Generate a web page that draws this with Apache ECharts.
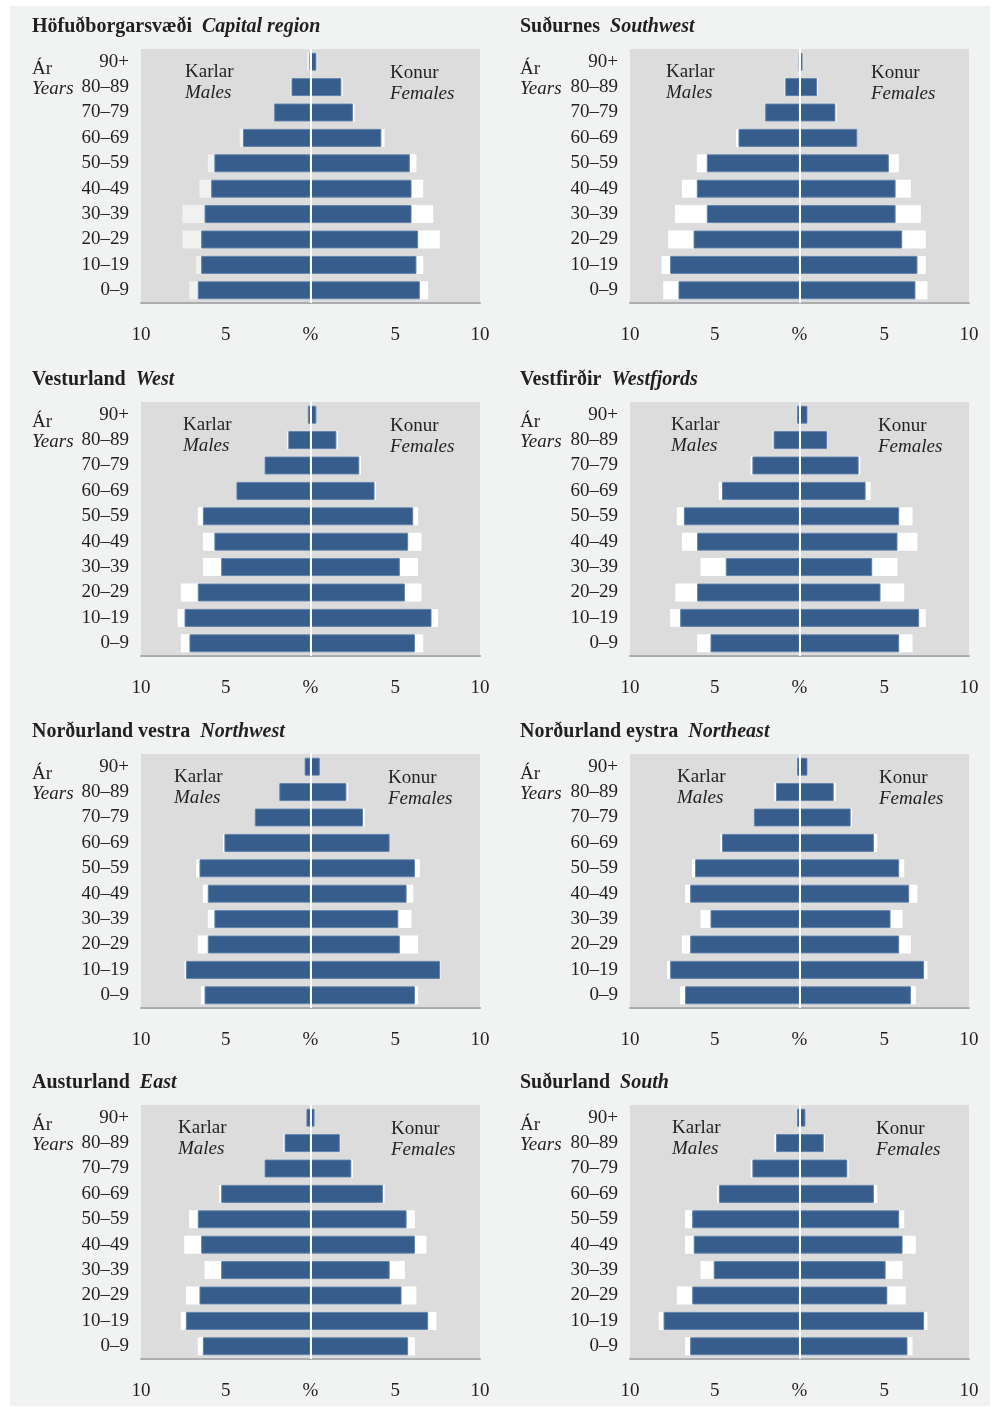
<!DOCTYPE html>
<html>
<head>
<meta charset="utf-8">
<script src="https://cdn.jsdelivr.net/npm/echarts@6/dist/echarts.min.js"></script>
<style>
  html, body { margin: 0; padding: 0; background: #ffffff; }
  #frame { position: absolute; left: 10px; top: 6px; width: 980px; height: 1400px; background: #f1f2f2; }
  #chart { position: absolute; left: 0; top: 0; width: 994px; height: 1407px; }
</style>
</head>
<body>
<div id="frame"></div>
<div id="chart"></div>
<script>
// aldurshópar, neðst til efst
const ageGroups = ['0–9', '10–19', '20–29', '30–39', '40–49', '50–59', '60–69', '70–79', '80–89', '90+'];
const xTicks = [-10, -5, 0, 5, 10];

// % karla / kvenna í landshluta (blátt) og samanburður (hvítt)
const capitalMales = [6.65, 6.45, 6.45, 6.25, 5.86, 5.67, 3.98, 2.14, 1.12, 0.05];
const capitalFemales = [6.45, 6.25, 6.35, 5.96, 5.96, 5.86, 4.18, 2.5, 1.82, 0.35];
const capitalMalesRef = [7.16, 6.75, 7.55, 7.55, 6.55, 6.06, 4.18, 2.1, 1.18, 0.2];
const capitalFemalesRef = [6.94, 6.65, 7.63, 7.24, 6.65, 6.25, 4.37, 2.6, 1.9, 0.4];

const southwestMales = [7.14, 7.63, 6.25, 5.47, 6.06, 5.47, 3.6, 2.02, 0.84, 0.02];
const southwestFemales = [6.84, 6.96, 6.06, 5.67, 5.67, 5.27, 3.41, 2.12, 1.04, 0.18];
const southwestMalesRef = [8.04, 8.14, 7.75, 7.35, 6.94, 6.06, 3.75, 2.0, 0.88, 0.05];
const southwestFemalesRef = [7.55, 7.45, 7.45, 7.16, 6.57, 5.86, 3.41, 2.2, 1.1, 0.18];

const westMales = [7.14, 7.43, 6.65, 5.27, 5.67, 6.35, 4.37, 2.71, 1.31, 0.16];
const westFemales = [6.16, 7.14, 5.57, 5.27, 5.76, 6.06, 3.78, 2.88, 1.53, 0.35];
const westMalesRef = [7.65, 7.84, 7.65, 6.35, 6.35, 6.65, 4.37, 2.71, 1.37, 0.16];
const westFemalesRef = [6.65, 7.53, 6.55, 6.35, 6.55, 6.35, 3.86, 2.98, 1.63, 0.35];

const westfjordsMales = [5.25, 7.04, 6.04, 4.35, 6.04, 6.82, 4.57, 2.78, 1.53, 0.16];
const westfjordsFemales = [5.88, 7.06, 4.78, 4.29, 5.78, 5.88, 3.9, 3.49, 1.63, 0.47];
const westfjordsMalesRef = [6.04, 7.63, 7.33, 5.84, 6.94, 7.24, 4.76, 2.9, 1.59, 0.2];
const westfjordsFemalesRef = [6.67, 7.45, 6.18, 5.78, 6.96, 6.67, 4.2, 3.59, 1.65, 0.47];

const northwestMales = [6.25, 7.35, 6.06, 5.67, 6.06, 6.55, 5.08, 3.29, 1.84, 0.35];
const northwestFemales = [6.16, 7.65, 5.27, 5.18, 5.67, 6.16, 4.67, 3.1, 2.12, 0.55];
const northwestMalesRef = [6.45, 7.43, 6.65, 6.06, 6.35, 6.75, 5.16, 3.29, 1.84, 0.35];
const northwestFemalesRef = [6.35, 7.7, 6.35, 5.96, 6.06, 6.45, 4.7, 3.2, 2.22, 0.55];

const northeastMales = [6.75, 7.63, 6.45, 5.25, 6.45, 6.16, 4.57, 2.69, 1.39, 0.16];
const northeastFemales = [6.57, 7.35, 5.88, 5.37, 6.47, 5.88, 4.39, 3.02, 2.02, 0.47];
const northeastMalesRef = [7.04, 7.82, 6.94, 5.84, 6.75, 6.35, 4.67, 2.69, 1.49, 0.2];
const northeastFemalesRef = [6.86, 7.55, 6.57, 6.08, 6.96, 6.18, 4.59, 3.1, 2.14, 0.47];

const eastMales = [6.35, 7.35, 6.55, 5.27, 6.45, 6.65, 5.27, 2.71, 1.53, 0.24];
const eastFemales = [5.76, 6.94, 5.37, 4.67, 6.16, 5.67, 4.27, 2.41, 1.73, 0.24];
const eastMalesRef = [6.65, 7.65, 7.35, 6.25, 7.45, 7.16, 5.39, 2.71, 1.61, 0.24];
const eastFemalesRef = [6.16, 7.43, 6.25, 5.57, 6.84, 6.16, 4.37, 2.5, 1.75, 0.24];

const southMales = [6.45, 8.02, 6.33, 5.06, 6.24, 6.33, 4.76, 2.78, 1.39, 0.16];
const southFemales = [6.37, 7.35, 5.18, 5.08, 6.08, 5.88, 4.39, 2.82, 1.43, 0.35];
const southMalesRef = [6.75, 8.31, 7.24, 5.84, 6.75, 6.75, 4.86, 2.88, 1.49, 0.2];
const southFemalesRef = [6.67, 7.55, 6.27, 6.08, 6.86, 6.18, 4.59, 2.9, 1.5, 0.35];

const regions = [
    { is: 'Höfuðborgarsvæði', en: 'Capital region', m: capitalMales, f: capitalFemales, mr: capitalMalesRef, fr: capitalFemalesRef },
    { is: 'Suðurnes', en: 'Southwest', m: southwestMales, f: southwestFemales, mr: southwestMalesRef, fr: southwestFemalesRef },
    { is: 'Vesturland', en: 'West', m: westMales, f: westFemales, mr: westMalesRef, fr: westFemalesRef },
    { is: 'Vestfirðir', en: 'Westfjords', m: westfjordsMales, f: westfjordsFemales, mr: westfjordsMalesRef, fr: westfjordsFemalesRef },
    { is: 'Norðurland vestra', en: 'Northwest', m: northwestMales, f: northwestFemales, mr: northwestMalesRef, fr: northwestFemalesRef },
    { is: 'Norðurland eystra', en: 'Northeast', m: northeastMales, f: northeastFemales, mr: northeastMalesRef, fr: northeastFemalesRef },
    { is: 'Austurland', en: 'East', m: eastMales, f: eastFemales, mr: eastMalesRef, fr: eastFemalesRef },
    { is: 'Suðurland', en: 'South', m: southMales, f: southFemales, mr: southMalesRef, fr: southFemalesRef }
];

const FONT = "'Liberation Serif', 'Times New Roman', serif";
const TXT = '#231f20';
const BLUE = '#365d8c';

// staðsetning reita
const colLeft = [141, 630];
const colText = [32, 520];
const rowTop = [49, 402, 754, 1105];
const titleY = [27, 380, 732, 1083];
const karlarX = [185, 666, 183, 671, 174, 677, 178, 672];
const konurX = [390, 871, 390, 878, 388, 879, 391, 876];
const GW = 339, GH = 254;

const chart = echarts.init(document.getElementById('chart'));

const grid = [], xAxis = [], yAxis = [], series = [], graphic = [];

regions.forEach((r, i) => {
    const col = i % 2, row = Math.floor(i / 2);
    const gx = colLeft[col], gy = rowTop[row];
    grid.push({
        left: gx, top: gy, width: GW, height: GH,
        show: true, backgroundColor: '#dcdcdc', borderWidth: 0
    });
    xAxis.push({
        gridIndex: i, type: 'value', min: -10, max: 10, interval: 5,
        axisLine: { show: true, onZero: false, lineStyle: { color: '#abadaf', width: 2 } },
        axisTick: { show: false },
        splitLine: { show: false },
        axisLabel: {
            margin: 23, fontFamily: FONT, fontSize: 19, color: TXT,
            formatter: v => v === 0 ? '%' : String(Math.abs(v))
        }
    });
    yAxis.push({
        gridIndex: i, type: 'category', data: ageGroups,
        axisLine: { show: false }, axisTick: { show: false },
        axisLabel: { margin: 12, fontFamily: FONT, fontSize: 19, color: TXT, lineHeight: 19, padding: [6, 0, 0, 0] }
    });

    const refColorM = i === 0 ? '#f0f1f1' : '#ffffff';
    const common = { type: 'bar', xAxisIndex: i, yAxisIndex: i, barWidth: 18, barGap: '-100%', silent: true, animation: false };
    series.push(
        Object.assign({}, common, { name: 'refM' + i, data: r.mr.map(v => -v), itemStyle: { color: refColorM } }),
        Object.assign({}, common, { name: 'refF' + i, data: r.fr, itemStyle: { color: '#ffffff' } }),
        Object.assign({}, common, {
            name: 'm' + i, data: r.m.map(v => -v),
            itemStyle: { color: BLUE, borderColor: '#6281a8', borderWidth: 1 }
        }),
        Object.assign({}, common, {
            name: 'f' + i, data: r.f,
            itemStyle: { color: BLUE, borderColor: '#6281a8', borderWidth: 1 },
            markLine: {
                silent: true, symbol: 'none', label: { show: false },
                lineStyle: { color: '#ffffff', width: 2, type: 'solid' },
                data: [{ xAxis: 0 }], animation: false
            }
        })
    );

    const tx = colText[col];
    graphic.push(
        {
            type: 'text', left: tx, top: titleY[i >> 1] - 10,
            style: {
                text: '{a|' + r.is + '}   {b|' + r.en + '}',
                rich: {
                    a: { fontFamily: FONT, fontSize: 20, fontWeight: 'bold', fill: TXT },
                    b: { fontFamily: FONT, fontSize: 20, fontWeight: 'bold', fontStyle: 'italic', fill: TXT }
                }
            }
        },
        { type: 'text', left: tx, top: gy + 11, style: { text: 'Ár', font: '19px ' + FONT, fill: TXT } },
        { type: 'text', left: tx, top: gy + 30, style: { text: 'Years', font: 'italic 19px ' + FONT, fill: TXT } },
        { type: 'text', left: karlarX[i], top: gy + 14, style: { text: 'Karlar', font: '19px ' + FONT, fill: TXT } },
        { type: 'text', left: karlarX[i], top: gy + 34, style: { text: 'Males', font: 'italic 19px ' + FONT, fill: TXT } },
        { type: 'text', left: konurX[i], top: gy + 15, style: { text: 'Konur', font: '19px ' + FONT, fill: TXT } },
        { type: 'text', left: konurX[i], top: gy + 35, style: { text: 'Females', font: 'italic 19px ' + FONT, fill: TXT } }
    );
});

chart.setOption({
    backgroundColor: 'transparent',
    animation: false,
    grid: grid,
    xAxis: xAxis,
    yAxis: yAxis,
    series: series,
    graphic: graphic
});
</script>
</body>
</html>
